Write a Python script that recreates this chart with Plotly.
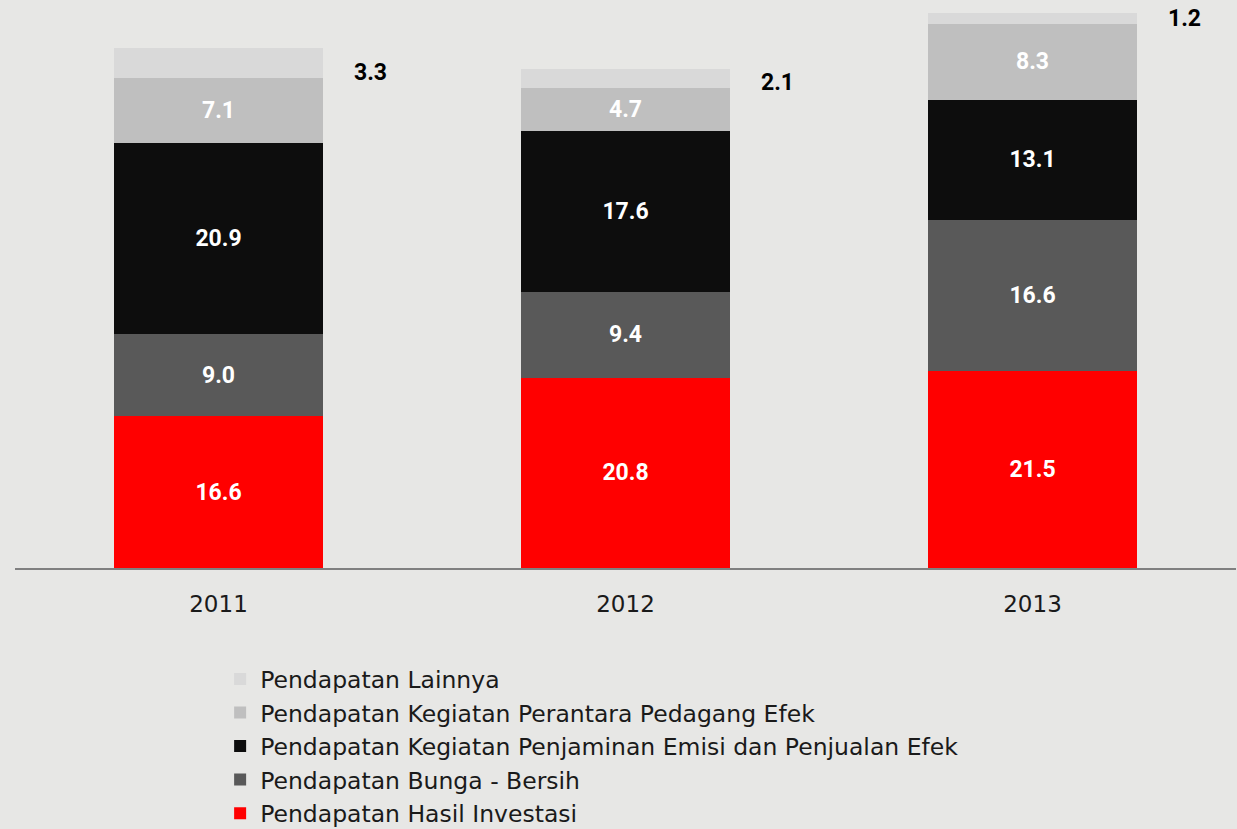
import plotly.graph_objects as go

years = ["2011", "2012", "2013"]

# segment values, bottom to top
hasil_investasi = [16.6, 20.8, 21.5]
bunga_bersih = [9.0, 9.4, 16.6]
penjaminan_emisi = [20.9, 17.6, 13.1]
perantara_efek = [7.1, 4.7, 8.3]
lainnya = [3.3, 2.1, 1.2]

series = [
    ("Pendapatan Hasil Investasi", hasil_investasi, "#ff0000"),
    ("Pendapatan Bunga - Bersih", bunga_bersih, "#595959"),
    ("Pendapatan Kegiatan Penjaminan Emisi dan Penjualan Efek", penjaminan_emisi, "#0d0d0d"),
    ("Pendapatan Kegiatan Perantara Pedagang Efek", perantara_efek, "#bfbfbf"),
    ("Pendapatan Lainnya", lainnya, "#d9d9d9"),
]

fig = go.Figure()
for i, (name, vals, color) in enumerate(series):
    is_top = name == "Pendapatan Lainnya"
    fig.add_trace(go.Bar(
        x=years, y=vals, name=name,
        marker=dict(color=color, line=dict(width=0)),
        text=None if is_top else [f"{v:.1f}" for v in vals],
        textposition="inside", insidetextanchor="middle", textangle=0,
        textfont=dict(family="Roboto", size=23, color="white", weight="bold"),
        legendrank=len(series) - i,
    ))

# outside labels for the small top segment (x as category index)
totals = [sum(s[1][k] for s in series) for k in range(len(years))]
for k in range(len(years)):
    fig.add_annotation(
        x=k, y=totals[k] - lainnya[k], text=f"{lainnya[k]:.1f}",
        xshift=152, yshift=5, yanchor="middle", showarrow=False,
        font=dict(family="Roboto", size=23, color="black", weight="bold"),
    )

fig.update_layout(
    width=1237, height=829,
    barmode="stack", bargap=0.486,
    paper_bgcolor="#e7e7e5", plot_bgcolor="rgba(0,0,0,0)",
    margin=dict(l=15, r=1, t=0, b=261, autoexpand=False),
    font=dict(family="DejaVu Sans", color="#1a1a1a"),
    showlegend=True,
    legend=dict(
        orientation="v", traceorder="normal",
        x=0.168, xanchor="left", y=-0.157, yanchor="top",
        font=dict(size=23.5, color="#1a1a1a"),
        bgcolor="rgba(0,0,0,0)",
    ),
    xaxis=dict(
        type="category", range=[-0.5, 2.5],
        showline=True, linecolor="#808080", linewidth=2,
        tickfont=dict(size=23, color="#1a1a1a"), ticks="", showgrid=False,
        ticklabelstandoff=14,
    ),
    yaxis=dict(range=[0, 62.1], visible=False, showgrid=False),
)

fig.write_html("out.html", config={"displayModeBar": False},
               post_script="document.body.style.margin='0';")
